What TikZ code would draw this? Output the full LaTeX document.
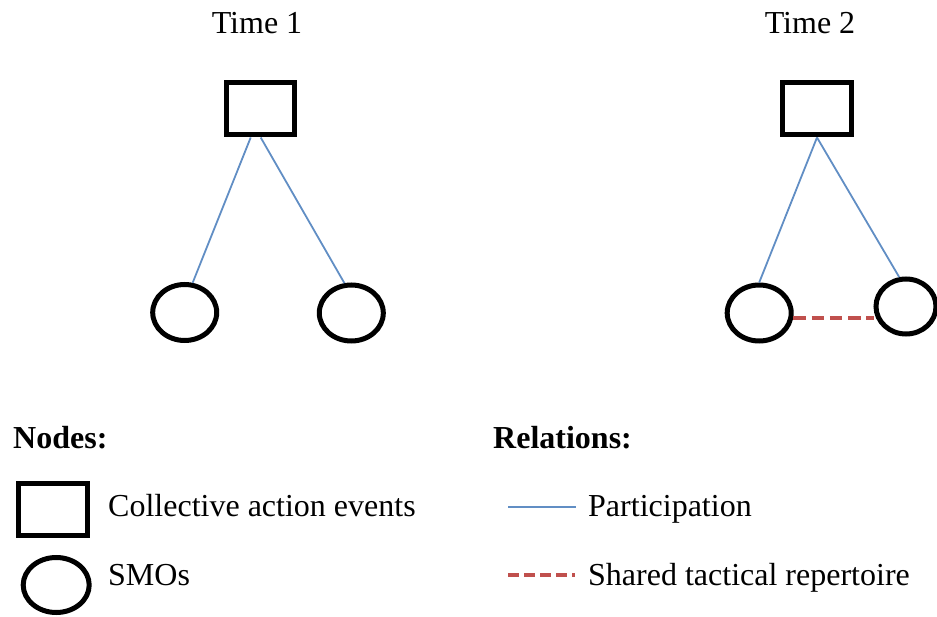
\documentclass[tikz,border=0pt]{standalone}
\usepackage{fontspec}
\setmainfont{Liberation Serif}
\usetikzlibrary{shapes.geometric,calc}
\definecolor{partblue}{RGB}{79,129,189}
\definecolor{sharedred}{RGB}{192,80,77}
\begin{document}
\begin{tikzpicture}[x=1pt,y=-1pt,
  every node/.style={font=\fontsize{32}{36}\selectfont},
  event/.style={draw=black,line width=5pt,rectangle,minimum width=68.5pt,minimum height=52pt,inner sep=0pt},
  smo/.style={draw=black,line width=5pt,ellipse,minimum width=64pt,minimum height=56pt,inner sep=0pt},
  txt/.style={anchor=base west,inner sep=0pt},
  title/.style={anchor=base,inner sep=0pt},
  participation/.style={draw=partblue!90,line width=1.8pt},
  shared/.style={draw=sharedred,line width=4pt,dash pattern=on 12.5pt off 5.8pt},
]
\useasboundingbox (0,0) rectangle (937,617);

% time panels
\node[title] (t1) at (257,33.3) {Time 1};
\node[title] (t2) at (810,33.3) {Time 2};

\node[event] (r1) at (260.7,109) {};
\node[smo] (c1) at (184.7,312.5) {};
\node[smo] (c2) at (351.3,313) {};

\node[event] (r2) at (817,109) {};
\node[smo] (c3) at (759.2,313) {};
\node[smo,minimum width=60pt,minimum height=55pt] (c4) at (906,306.5) {};

% participation ties
\draw[participation] ($(r1.south)+(-10,0)$) -- (c1.75);
\draw[participation] (r1.south) -- (c2.103);
\draw[participation] (r2.south) -- (c3.north);
\draw[participation] (r2.south) -- (c4.103);

% shared tactical repertoire
\draw[shared] (c3.-8) -- (c3.-8 -| c4.west);

% legend
\node[txt] (hn) at (13,448) {\bfseries Nodes:};
\node[txt] (hr) at (493,448) {\bfseries Relations:};

\node[event] (lr) at (53,509) {};
\node[txt] (lrt) at (108,516.7) {Collective action events};
\node[smo,minimum width=66pt,minimum height=55pt] (lc) at (56.2,585) {};
\node[txt] (lct) at (108,585.7) {SMOs};

\coordinate (pa) at (508,507.3);
\coordinate (pb) at (576,507.3);
\draw[participation] (pa) -- (pb);
\node[txt] (pt) at (588,516.7) {Participation};

\coordinate (sa) at (508,575);
\coordinate (sb) at (575,575);
\draw[shared,line width=3.5pt,dash pattern=on 11pt off 5pt] (sa) -- (sb);
\node[txt] (st) at (588,585.7) {Shared tactical repertoire};
\end{tikzpicture}
\end{document}
